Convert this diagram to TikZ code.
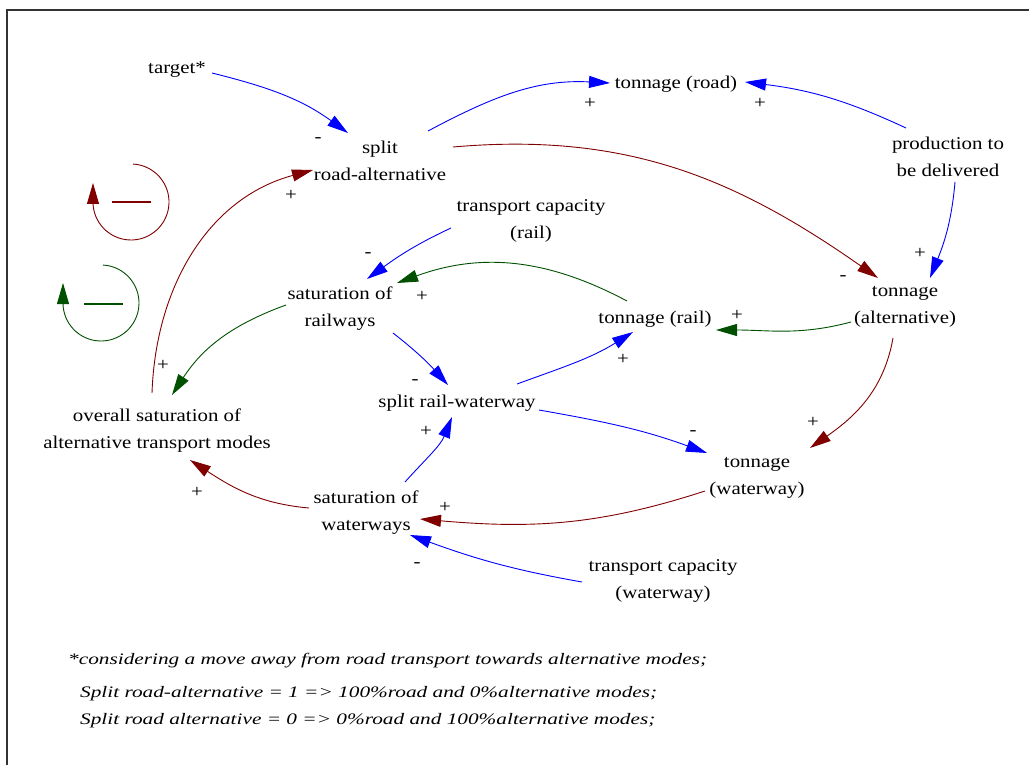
\documentclass[tikz,border=0pt]{standalone}
\usepackage{fontspec}
\setmainfont{Liberation Serif}
\newfontfamily\diagfont[FakeStretch=1.16]{Liberation Serif}
\newfontfamily\notefont[FakeStretch=1.33]{Liberation Serif}
\usetikzlibrary{arrows.meta,calc}
\definecolor{cblue}{RGB}{0,0,255}
\definecolor{cred}{RGB}{128,0,0}
\definecolor{cgreen}{RGB}{0,80,0}
\tikzset{
  var/.style={font=\diagfont\fontsize{18}{27}\selectfont, align=center, inner sep=0pt},
  pol/.style={font=\diagfont\fontsize{18}{18}\selectfont, inner sep=0pt},
  note/.style={font=\notefont\itshape\fontsize{16}{16}\selectfont, anchor=west, inner sep=0pt},
  lk/.style={line width=0.9pt, -{Triangle[length=21pt,width=12pt]}},
  bl/.style={lk, draw=cblue},
  rd/.style={lk, draw=cred},
  gr/.style={lk, draw=cgreen},
}
\begin{document}
\begin{tikzpicture}[x=1pt,y=-1pt]
\useasboundingbox (0,0) rectangle (1029,765);
\fill[white] (0,0) rectangle (1029,765);
\draw[line width=1.8pt, black!80] (7,765) -- (7,10) -- (1029,10);

% variables
\node[var] (target) at (177,70) {target*};
\node[var] (split) at (380,161) {split\\road-alternative};
\node[var] (troad) at (676,84) {tonnage (road)};
\node[var] (prod) at (948,157) {production to\\be delivered};
\node[var] (tcrail) at (531,221) {transport capacity\\(rail)};
\node[var] (satrail) at (340,309) {saturation of\\railways};
\node[var] (trail) at (655,319) {tonnage (rail)};
\node[var] (talt) at (905,307) {tonnage\\(alternative)};
\node[var] (srw) at (457,403) {split rail-waterway};
\node[var] (overall) at (157,431) {overall saturation of\\alternative transport modes};
\node[var] (twat) at (757,478) {tonnage\\(waterway)};
\node[var] (satwat) at (366,513) {saturation of\\waterways};
\node[var] (tcwat) at (663,581) {transport capacity\\(waterway)};

% links
\draw[bl] ($(target)+(35,3)$) to[out=-14,in=144] ($(split)+(-32,-28)$);
\draw[bl] ($(split)+(48,-30)$) to[out=28,in=177] ($(troad)+(-66,-1)$);
\draw[bl] ($(prod)+(-42,-29)$) to[out=155,in=-7] ($(troad)+(69,-2)$);
\draw[rd] ($(split)+(73,-14)$) to[out=5,in=145] ($(talt)+(-27,-29)$);
\draw[bl] ($(prod)+(7,25)$) to[out=-95,in=68] ($(talt)+(25,-29)$);
\draw[bl] ($(tcrail)+(-80,7)$) to[out=205,in=36] ($(satrail)+(27,-30)$);
\draw[gr] ($(trail)+(-28,-18)$) to[out=152,in=20] ($(satrail)+(57,-26)$);
\draw[gr] ($(talt)+(-54,15)$) to[out=195,in=0] ($(trail)+(61,11)$);
\draw[gr] ($(satrail)+(-54,-4)$) to[out=200,in=57] ($(overall)+(15,-36)$);
\draw[rd] ($(overall)+(-5,-38)$) to[out=88,in=195] ($(split)+(-67,9)$);
\draw[bl] ($(satrail)+(53,24)$) to[out=-38,in=132] ($(srw)+(-9,-18)$);
\draw[bl] ($(srw)+(60,-19)$) to[out=20,in=212] ($(trail)+(-22,13)$);
\draw[bl] ($(satwat)+(39,-31)$) to[out=48,in=248] ($(srw)+(-5,14)$);
\draw[bl] ($(srw)+(82,7)$) to[out=-10,in=160] ($(twat)+(-50,-25)$);
\draw[rd] ($(talt)+(-12,31)$) to[out=260,in=35] ($(twat)+(53,-30)$);
\draw[rd] ($(twat)+(-52,13)$) to[out=198,in=-5] ($(satwat)+(54,6)$);
\draw[rd] ($(satwat)+(-57,-5)$) to[out=175,in=-33] ($(overall)+(33,29)$);
\draw[bl] ($(tcwat)+(-81,1)$) to[out=170,in=-20] ($(satwat)+(44,22)$);

% polarities
\node[pol] (p1) at (318,140) {-};
\node[pol] (p2) at (590,103) {+};
\node[pol] (p3) at (760,103) {+};
\node[pol] (p4) at (843,278) {-};
\node[pol] (p5) at (920,253) {+};
\node[pol] (p6) at (368,255) {-};
\node[pol] (p7) at (422,296) {+};
\node[pol] (p8) at (737,315) {+};
\node[pol] (p9) at (163,365) {+};
\node[pol] (p10) at (291,195) {+};
\node[pol] (p11) at (415,382) {-};
\node[pol] (p12) at (623,359) {+};
\node[pol] (p13) at (426,431) {+};
\node[pol] (p14) at (693,433) {-};
\node[pol] (p15) at (813,422) {+};
\node[pol] (p16) at (445,507) {+};
\node[pol] (p17) at (197,492) {+};
\node[pol] (p18) at (417,565) {-};

% loop symbols
\draw[rd] (131,202) ++(273:38) arc[start angle=273, end angle=540, radius=38] -- ++(0,-19);
\draw[cred, line width=1.3pt] (112,202) -- (151,202);
\draw[gr] (101,303) ++(273:38) arc[start angle=273, end angle=540, radius=38] -- ++(0,-20);
\draw[cgreen, line width=1.3pt] (84,304) -- (123,304);

% notes
\node[note] (n1) at (68,661) {*considering a move away from road transport towards alternative modes;};
\node[note] (n2) at (80,694) {Split road-alternative = 1 => 100\%road and 0\%alternative modes;};
\node[note] (n3) at (80,721) {Split road alternative = 0 => 0\%road and 100\%alternative modes;};
\end{tikzpicture}
\end{document}
